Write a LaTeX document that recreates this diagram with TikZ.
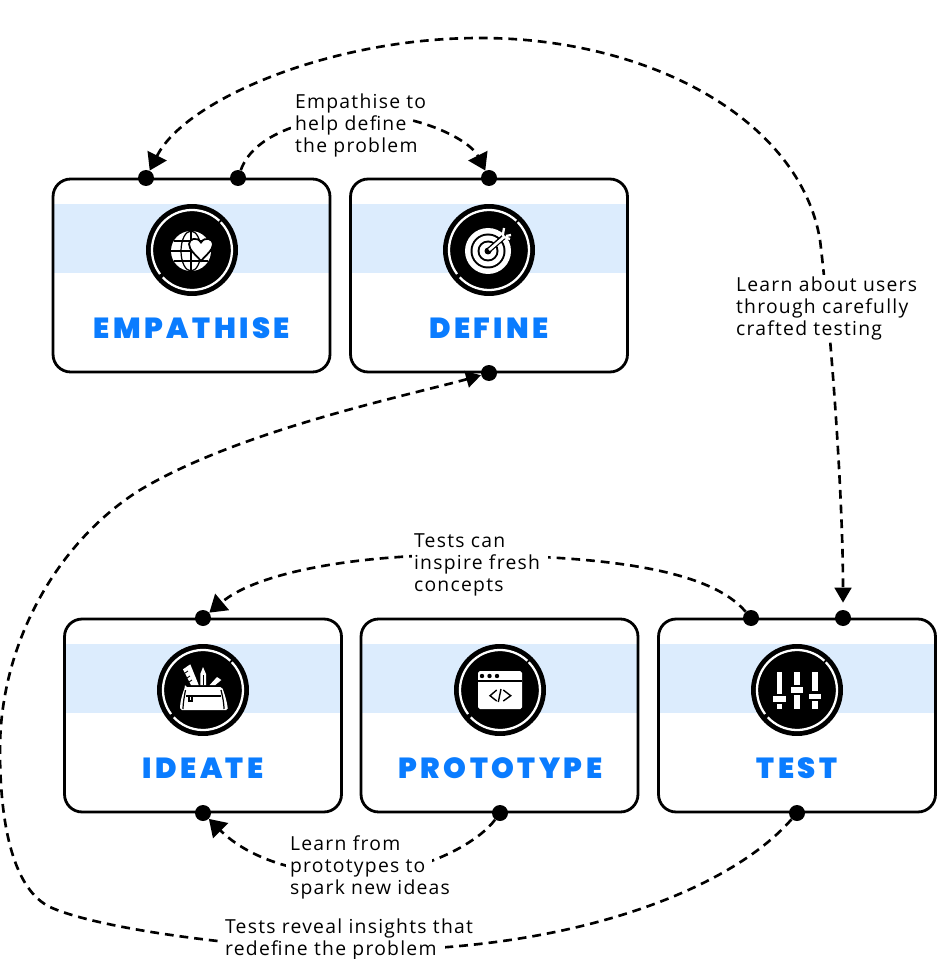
\documentclass[tikz,border=0pt]{standalone}
\usepackage{fontspec}
\usetikzlibrary{arrows.meta}
\setmainfont[LetterSpace=6.5]{Open Sans}
\newfontfamily\headfont[LetterSpace=12]{Poppins Black}
\definecolor{bandblue}{HTML}{DCECFD}
\definecolor{headblue}{HTML}{0A7CFF}
\tikzset{
  card/.style={draw,line width=1.6pt,rounded corners=10pt,minimum width=5.54cm,minimum height=3.86cm},
  band/.style={fill=bandblue},
  disc/.style={circle,fill=black,inner sep=0pt,minimum size=1.84cm},
  ring/.style={white,line width=1.3pt},
  head/.style={text=headblue,font=\headfont\fontsize{16.5}{18}\selectfont},
  dot/.style={circle,fill=black,inner sep=0pt,minimum size=0.32cm},
  link/.style={line width=1.5pt,dash pattern=on 5pt off 3.4pt},
  bigtip/.style={-{Triangle[length=9.5pt,width=12pt]}},
  smalltip/.style={-{Triangle[length=8.5pt,width=9.5pt]}},
  bothtips/.style={{Triangle[length=9.5pt,width=12pt]}-{Triangle[length=8.5pt,width=9.5pt]},shorten >=4pt},
  mask/.style={fill=white},
  note/.style={anchor=north west,align=left,inner sep=1pt,font=\fontsize{11}{12.5}\selectfont},
}
\begin{document}
\begin{tikzpicture}[x=0.02cm,y=-0.02cm]
  \useasboundingbox (0,0) rectangle (937,959);

  % Bandas azules
  \fill[band] (53,204) rectangle (330,273);
  \fill[band] (350,204) rectangle (628,273);
  \fill[band] (64,644) rectangle (342,713);
  \fill[band] (361,644) rectangle (638,713);
  \fill[band] (658,644) rectangle (936,713);

  % Tarjetas
  \node[card] (empathise) at (191.5,275.5) {};
  \node[card] (define) at (489,275.5) {};
  \node[card] (ideate) at (203,715.5) {};
  \node[card] (prototype) at (499.5,715.5) {};
  \node[card] (test) at (797,715.5) {};

  \node[head] (empathiseHead) at (192,328) {EMPATHISE};
  \node[head] (defineHead) at (489,328) {DEFINE};
  \node[head] (ideateHead) at (203,768) {IDEATE};
  \node[head] (prototypeHead) at (500.5,768) {PROTOTYPE};
  \node[head] (testHead) at (797,768) {TEST};

  % Discos negros
  \node[disc] (empathiseIcon) at (192,250) {};
  \node[disc] (defineIcon) at (489,250) {};
  \node[disc] (ideateIcon) at (203,690) {};
  \node[disc] (prototypeIcon) at (500,690) {};
  \node[disc] (testIcon) at (797,690) {};

  % Anillos blancos con dos cortes
  \draw[ring] (192,250) ++(-47:40) arc[start angle=-47,end angle=-217,radius=40];
  \draw[ring] (192,250) ++(-223:40) arc[start angle=-223,end angle=-404,radius=40];
  \draw[ring] (489,250) ++(-47:40) arc[start angle=-47,end angle=-217,radius=40];
  \draw[ring] (489,250) ++(-223:40) arc[start angle=-223,end angle=-404,radius=40];
  \draw[ring] (203,690) ++(-47:40) arc[start angle=-47,end angle=-217,radius=40];
  \draw[ring] (203,690) ++(-223:40) arc[start angle=-223,end angle=-404,radius=40];
  \draw[ring] (500,690) ++(-47:40) arc[start angle=-47,end angle=-217,radius=40];
  \draw[ring] (500,690) ++(-223:40) arc[start angle=-223,end angle=-404,radius=40];
  \draw[ring] (797,690) ++(-47:40) arc[start angle=-47,end angle=-217,radius=40];
  \draw[ring] (797,690) ++(-223:40) arc[start angle=-223,end angle=-404,radius=40];

  % Globo con corazon
  \begin{scope}[shift={(192,250)}]
    \fill[white] (-1,1) circle (20);
    \draw[line width=0.7pt] (-1,-19) -- (-1,21);
    \draw[line width=0.7pt] (-21,1) -- (19,1);
    \draw[line width=0.7pt] (-1,1) ellipse (10 and 20);
    \draw[line width=0.7pt] (-18,-9) -- (16,-9);
    \draw[line width=0.7pt] (-18,11) -- (16,11);
    \draw[fill=white,line width=1pt] (9,11) .. controls (4,5) and (-3,0) .. (-3,-6)
      .. controls (-3,-11) and (5,-14) .. (9,-7.5)
      .. controls (13,-14) and (21,-11) .. (21,-6)
      .. controls (21,0) and (14,5) .. (9,11) -- cycle;
  \end{scope}

  % Diana
  \begin{scope}[shift={(489,250)}]
    \fill[white] (-1,1) circle (23);
    \fill[black] (-1,1) circle (17.5);
    \fill[white] (-1,1) circle (15.5);
    \fill[black] (-1,1) circle (10.5);
    \fill[white] (-1,1) circle (8.5);
    \fill[black] (-1,1) circle (3.5);
    \draw[line width=3pt] (0,0) -- (18,-16);
    \draw[white,line width=1.5pt] (0,0) -- (15,-13);
    \draw[white,line width=1.3pt] (13,-17) -- (15,-13) -- (21,-11);
    \draw[white,line width=1.3pt] (15,-22) -- (14,-16);
    \draw[white,line width=1.3pt] (22,-15) -- (17,-14);
  \end{scope}

  % Estuche
  \begin{scope}[shift={(203,690)}]
    \fill[white] (-20,-20.7) -- (-12.7,-25.7) -- (-4.3,-5) -- (-12,-5) -- cycle;
    \draw[line width=0.5pt] (-18,-17) -- (-15,-19);
    \draw[line width=0.5pt] (-16,-12) -- (-13,-14);
    \draw[line width=0.5pt] (-14,-8) -- (-11,-10);
    \fill[white] (-2.7,-16) -- (0,-23) -- (3,-16) -- (3,-5) -- (-2.7,-5) -- cycle;
    \draw[line width=0.6pt] (0.2,-15) -- (0.2,-5);
    \fill[white] (6.7,-5) -- (14,-13) -- (18.3,-10) -- (12.3,-5) -- cycle;
    \fill[white,rounded corners=1pt] (-18,-3) -- (19,-3) .. controls (22,5) and (24,12) .. (25,20)
      -- (-23,20) .. controls (-23,12) and (-21,5) .. (-18,-3) -- cycle;
    \draw[line width=0.8pt] (-17,6) -- (18,6);
    \draw[line width=0.7pt] (-14,6) rectangle (-11,11);
    \draw[line width=0.7pt] (-17.5,0) .. controls (-19,8) and (-20,14) .. (-20,19);
    \draw[line width=0.7pt] (18,0) .. controls (20,8) and (21,14) .. (21,19);
  \end{scope}

  % Ventana de codigo
  \begin{scope}[shift={(500,690)}]
    \fill[white,rounded corners=1pt] (-22,-19) rectangle (22,19);
    \draw[line width=0.8pt] (-22,-9) -- (22,-9);
    \fill[black] (-18,-14) circle (2.2);
    \fill[black] (-10.5,-14) circle (2.2);
    \fill[black] (-3,-14) circle (2.2);
    \draw[line width=0.8pt] (-3.3,0) -- (-10,5.7) -- (-3.3,11);
    \draw[line width=0.8pt] (3.3,0) -- (10.7,5.7) -- (3.3,11);
    \draw[line width=0.8pt] (1,-1) -- (-1.7,12);
  \end{scope}

  % Reguladores
  \begin{scope}[shift={(797,690)}]
    \fill[white] (-20.5,-18) rectangle (-15,4);
    \fill[white] (-24,6) rectangle (-11.5,11.5);
    \fill[white] (-20.5,13.5) rectangle (-15,19);
    \fill[white] (-2.7,-18) rectangle (2.7,-5);
    \fill[white] (-6.3,-3) rectangle (6.3,2.5);
    \fill[white] (-2.7,4.5) rectangle (2.7,19);
    \fill[white] (15,-18) rectangle (20.5,1);
    \fill[white] (11.5,3.5) rectangle (24,9);
    \fill[white] (15,11) rectangle (20.5,19);
  \end{scope}

  % Puntos de conexion
  \node[dot] (empathiseLeft) at (146,178) {};
  \node[dot] (empathiseRight) at (238,178) {};
  \node[dot] (defineTop) at (489,178) {};
  \node[dot] (defineBottom) at (489,373) {};
  \node[dot] (ideateTop) at (203,618) {};
  \node[dot] (ideateBottom) at (203,813) {};
  \node[dot] (prototypeBottom) at (500,813) {};
  \node[dot] (testLeft) at (751,618) {};
  \node[dot] (testRight) at (843,618) {};
  \node[dot] (testBottom) at (797,813) {};

  % Conectores
  \draw[link,bothtips] (empathiseLeft) .. controls (185,100) and (330,38) .. (480,38)
    .. controls (650,38) and (800,120) .. (820,240)
    .. controls (832,340) and (843,500) .. (testRight);
  \draw[link,bigtip] (empathiseRight) .. controls (255,130) and (320,115) .. (370,115)
    .. controls (420,115) and (470,140) .. (defineTop);
  \draw[link,bigtip] (testLeft) .. controls (710,570) and (610,557) .. (480,555)
    .. controls (370,553) and (260,570) .. (ideateTop);
  \draw[link,bigtip] (prototypeBottom) .. controls (480,840) and (440,862) .. (400,870)
    .. controls (340,882) and (260,870) .. (ideateBottom);
  \draw[link,smalltip] (testBottom) .. controls (730,890) and (570,952) .. (360,950)
    .. controls (260,950) and (100,930) .. (50,907)
    .. controls (15,890) and (0,830) .. (0,750)
    .. controls (0,640) and (60,540) .. (140,490)
    .. controls (240,430) and (410,395) .. (defineBottom);

  % Tapas blancas bajo los textos
  \fill[mask] (291,105) rectangle (411,135);
  \fill[mask] (735,275) rectangle (918,338);
  \fill[mask] (412,545) rectangle (548,570);
  \fill[mask] (286,850) rectangle (432,878);
  \fill[mask] (222,935) rectangle (445,958);

  % Textos
  \node[note] (noteDefine) at (293,92) {Empathise to\\help define\\the problem};
  \node[note] (noteUsers) at (734,274.5) {Learn about users\\through carefully\\crafted testing};
  \node[note] (noteTests) at (412,532) {Tests can\\inspire fresh\\concepts};
  \node[note] (noteProto) at (288,834) {Learn from\\prototypes to\\spark new ideas};
  \node[note] (noteReveal) at (223,917) {Tests reveal insights that\\redefine the problem};
\end{tikzpicture}
\end{document}
